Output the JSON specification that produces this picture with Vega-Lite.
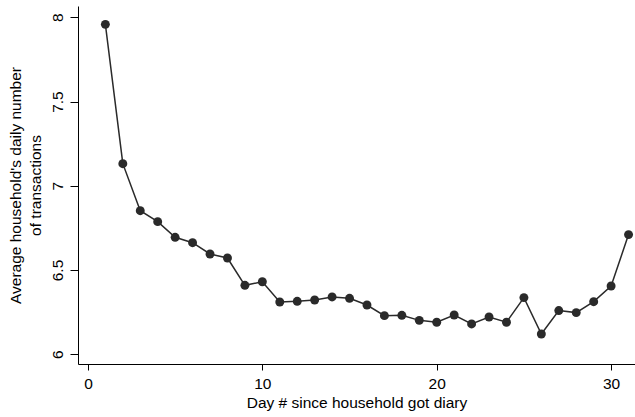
{
  "$schema": "https://vega.github.io/schema/vega-lite/v6.json",
  "autosize": "none",
  "width": 557,
  "height": 358,
  "padding": {"left": 78, "top": 6, "right": 0, "bottom": 53},
  "background": "white",
  "config": {
    "view": {"stroke": null},
    "font": "Liberation Sans",
    "axis": {"domainColor": "#000", "tickColor": "#000", "labelColor": "#000", "titleColor": "#000", "grid": false, "labelFontSize": 15.5, "titleFontSize": 15.5, "titleFontWeight": "normal", "labelFont": "Liberation Sans", "titleFont": "Liberation Sans"}
  },
  "data": {
    "values": [
      {"day": 1, "avg": 7.958},
      {"day": 2, "avg": 7.131},
      {"day": 3, "avg": 6.852},
      {"day": 4, "avg": 6.787},
      {"day": 5, "avg": 6.694},
      {"day": 6, "avg": 6.662},
      {"day": 7, "avg": 6.595},
      {"day": 8, "avg": 6.571},
      {"day": 9, "avg": 6.409},
      {"day": 10, "avg": 6.430},
      {"day": 11, "avg": 6.310},
      {"day": 12, "avg": 6.314},
      {"day": 13, "avg": 6.322},
      {"day": 14, "avg": 6.340},
      {"day": 15, "avg": 6.332},
      {"day": 16, "avg": 6.292},
      {"day": 17, "avg": 6.229},
      {"day": 18, "avg": 6.231},
      {"day": 19, "avg": 6.201},
      {"day": 20, "avg": 6.190},
      {"day": 21, "avg": 6.233},
      {"day": 22, "avg": 6.180},
      {"day": 23, "avg": 6.221},
      {"day": 24, "avg": 6.190},
      {"day": 25, "avg": 6.336},
      {"day": 26, "avg": 6.120},
      {"day": 27, "avg": 6.259},
      {"day": 28, "avg": 6.247},
      {"day": 29, "avg": 6.312},
      {"day": 30, "avg": 6.405},
      {"day": 31, "avg": 6.710}
    ]
  },
  "encoding": {
    "x": {
      "field": "day", "type": "quantitative",
      "scale": {"domain": [-0.57, 31.37], "nice": false, "zero": false},
      "axis": {"values": [0, 10, 20, 30], "tickSize": 6, "labelPadding": 6, "title": "Day # since household got diary", "titlePadding": 4}
    },
    "y": {
      "field": "avg", "type": "quantitative",
      "scale": {"domain": [5.942, 8.067], "nice": false, "zero": false},
      "axis": {"values": [6, 6.5, 7, 7.5, 8], "format": "~g", "tickSize": 8, "labelAngle": -90, "labelAlign": "center", "labelBaseline": "bottom", "labelPadding": 5, "title": ["Average household's daily number", "of transactions"], "titlePadding": 7, "titleLineHeight": 20}
    }
  },
  "layer": [
    {"mark": {"type": "line", "color": "#2a2a2a", "strokeWidth": 1.5}},
    {"mark": {"type": "point", "filled": true, "color": "#2a2a2a", "size": 80, "opacity": 1}}
  ]
}
